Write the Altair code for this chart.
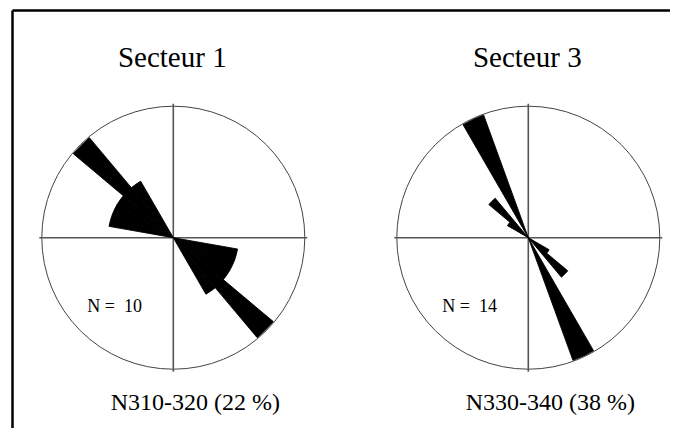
import math
import altair as alt
import pandas as pd

# ---- data ----
sectors = ["Secteur 1", "Secteur 3"]
counts = ["N =\u00a0 10", "N =\u00a0 14"]
modes = ["N310-320 (22 %)", "N330-340 (38 %)"]

# 10-degree classes (start azimuth, NW half) and their percentage
s1_bins = [280, 290, 300, 310, 320]
s1_pct = [11, 11, 11, 22, 11]
s3_bins = [300, 310, 330]
s3_pct = [7, 15, 38]

rows = []
for sec, bins, pcts in [(sectors[0], s1_bins, s1_pct), (sectors[1], s3_bins, s3_pct)]:
    for b, p in zip(bins, pcts):
        # orientation data: plotted in both directions
        rows.append({"sector": sec, "a0": b, "a1": b + 10, "pct": p})
        rows.append({"sector": sec, "a0": b - 180, "a1": b - 170, "pct": p})
wedges = pd.DataFrame(rows)
labels = pd.DataFrame({"sector": sectors, "count": counts, "mode": modes})

# ---- layout ----
W, H = 662, 420
CY = 229.7
CX = [165.3, 520.3]
R = 131.5
RMAX = 130.5
SERIF = "Liberation Serif"

theta_scale = alt.Scale(type="linear", domain=[0, 360], range=[0, 2 * math.pi])
radius_scale = alt.Scale(type="linear", domain=[0, 1], range=[0, RMAX])

layers = []

# frame (top and left edges of the box that runs off the picture)
one = alt.Data(values=[{"k": 1}])
layers.append(
    alt.Chart(one).mark_rule(color="black", strokeWidth=2.5).encode(
        x=alt.value(4.5), x2=alt.value(W + 20), y=alt.value(2.5)
    )
)
layers.append(
    alt.Chart(one).mark_rule(color="black", strokeWidth=2.5).encode(
        x=alt.value(4.5), y=alt.value(2.5), y2=alt.value(H + 20)
    )
)

for i, sec in enumerate(sectors):
    cx = CX[i]
    lab = alt.Chart(labels).transform_filter(alt.datum.sector == sec)
    # circle
    layers.append(
        lab.mark_arc(theta=0, theta2=2 * math.pi, radius=R, fillOpacity=0,
                     stroke="#444444", strokeWidth=1).encode(
            x=alt.value(cx), y=alt.value(CY)
        )
    )
    # cross
    layers.append(
        lab.mark_rule(color="#555555", strokeWidth=1.6).encode(
            x=alt.value(cx - 134), x2=alt.value(cx + 134), y=alt.value(CY)
        )
    )
    layers.append(
        lab.mark_rule(color="#555555", strokeWidth=1.6).encode(
            x=alt.value(cx), y=alt.value(CY - 134), y2=alt.value(CY + 134)
        )
    )
    # rose wedges
    layers.append(
        alt.Chart(wedges)
        .transform_filter(alt.datum.sector == sec)
        .transform_joinaggregate(pmax="max(pct)", groupby=["sector"])
        .transform_calculate(r="datum.pct / datum.pmax")
        .mark_arc(color="black", stroke="black", strokeWidth=0.9, strokeJoin="miter")
        .encode(
            theta=alt.Theta("a0:Q", scale=theta_scale, stack=False),
            theta2="a1:Q",
            radius=alt.Radius("r:Q", scale=radius_scale),
            x=alt.value(cx),
            y=alt.value(CY),
        )
    )
    # titles and annotations
    layers.append(
        lab.mark_text(font=SERIF, fontSize=29, align="center", baseline="alphabetic",
                      color="black").encode(
            text="sector:N", x=alt.value(cx - 1), y=alt.value(58.5)
        )
    )
    layers.append(
        lab.mark_text(font=SERIF, fontSize=18, align="left", baseline="alphabetic",
                      color="black").encode(
            text="count:N", x=alt.value(cx - 86), y=alt.value(303.5)
        )
    )
    layers.append(
        lab.mark_text(font=SERIF, fontSize=24, align="center", baseline="alphabetic",
                      color="black").encode(
            text="mode:N", x=alt.value(cx + 22), y=alt.value(402)
        )
    )

chart = (
    alt.layer(*layers)
    .resolve_scale(theta="shared", radius="shared")
    .properties(width=W, height=H, padding=0, background="white",
                autosize=alt.AutoSizeParams(type="none"))
    .configure_view(strokeWidth=0)
)

chart.save("out.html", embed_options={"renderer": "svg", "actions": False})
